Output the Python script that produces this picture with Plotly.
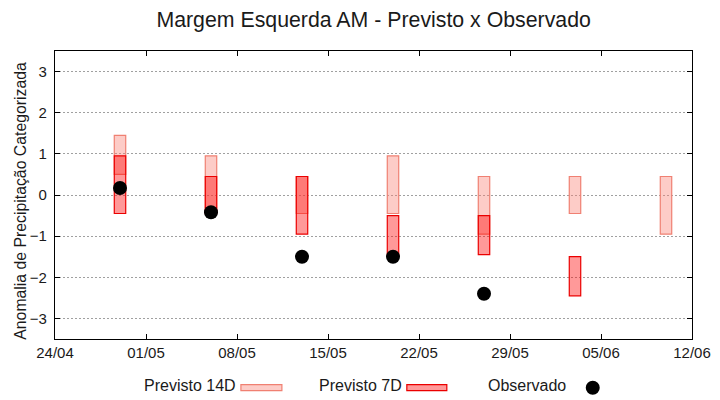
import plotly.graph_objects as go

# ---- data ----
dates = ["2023-04-29", "2023-05-06", "2023-05-13", "2023-05-20",
         "2023-05-27", "2023-06-03", "2023-06-10"]
prev14_low = [0.50, -0.45, -0.45, -0.45, -0.95, -0.45, -0.95]
prev14_high = [1.45, 0.95, 0.45, 0.95, 0.45, 0.45, 0.45]
prev7_low = [-0.45, -0.45, -0.95, -1.45, -1.45, -2.45, None]
prev7_high = [0.95, 0.45, 0.45, -0.50, -0.50, -1.50, None]
observed = [0.17, -0.42, -1.50, -1.50, -2.40, None, None]

x_ticks = ["2023-04-24", "2023-05-01", "2023-05-08", "2023-05-15",
           "2023-05-22", "2023-05-29", "2023-06-05", "2023-06-12"]
x_tick_text = ["24/04", "01/05", "08/05", "15/05", "22/05", "29/05", "05/06", "12/06"]
y_ticks = [-3, -2, -1, 0, 1, 2, 3]

title = "Margem Esquerda AM - Previsto x Observado"
y_title = "Anomalia de Precipitação Categorizada"
legend_names = ["Previsto 14D", "Previsto 7D", "Observado"]

# ---- styles ----
FONT = "Liberation Sans, Arial, sans-serif"
C14_FILL = "rgba(250,128,114,0.4)"
C14_LINE = "rgb(240,128,114)"
C7_FILL = "rgba(255,0,0,0.4)"
C7_LINE = "rgb(235,0,0)"
DAY_MS = 86400000
BAR_W = 0.88 * DAY_MS

fig = go.Figure()

fig.add_trace(go.Bar(
    x=dates,
    base=prev14_low,
    y=[h - l for h, l in zip(prev14_high, prev14_low)],
    width=[BAR_W] * len(dates),
    marker=dict(color=C14_FILL, line=dict(color=C14_LINE, width=1.2)),
    name=legend_names[0], showlegend=False,
))

p7_x = [d for d, l in zip(dates, prev7_low) if l is not None]
p7_b = [l for l in prev7_low if l is not None]
p7_h = [h - l for h, l in zip(prev7_high, prev7_low) if l is not None]
fig.add_trace(go.Bar(
    x=p7_x, base=p7_b, y=p7_h,
    width=[BAR_W] * len(p7_x),
    marker=dict(color=C7_FILL, line=dict(color=C7_LINE, width=1.2)),
    name=legend_names[1], showlegend=False,
))

ob_x = [d for d, v in zip(dates, observed) if v is not None]
ob_y = [v for v in observed if v is not None]
fig.add_trace(go.Scatter(
    x=ob_x, y=ob_y, mode="markers",
    marker=dict(color="black", size=14),
    name=legend_names[2], showlegend=False,
))

# ---- custom gnuplot-like key (text then sample) ----
L, R, T, B = 55, 692.3, 51.3, 339.3
W, H = R - L, B - T


def px(x):
    return (x - L) / W


def py(y):
    return (B - y) / H


key_y = 386
annots = []
shapes = []
for text, xt in zip(legend_names, [142, 317, 486]):
    annots.append(dict(text=text, x=px(xt), y=py(key_y), xref="paper", yref="paper",
                       xanchor="left", yanchor="middle", showarrow=False,
                       font=dict(family=FONT, size=16, color="#1a1a1a")))
# y-axis title placed like gnuplot's
annots.append(dict(text=y_title, x=px(21), y=py(201), xref="paper", yref="paper",
                   xanchor="center", yanchor="middle", textangle=-90, showarrow=False,
                   font=dict(family=FONT, size=15.8, color="#1a1a1a")))
shapes.append(dict(type="rect", xref="paper", yref="paper",
                   x0=px(241), x1=px(282), y0=py(391), y1=py(385),
                   fillcolor=C14_FILL, line=dict(color=C14_LINE, width=1.2)))
shapes.append(dict(type="rect", xref="paper", yref="paper",
                   x0=px(407), x1=px(447), y0=py(391), y1=py(385),
                   fillcolor=C7_FILL, line=dict(color=C7_LINE, width=1.2)))
shapes.append(dict(type="circle", xref="paper", yref="paper",
                   xsizemode="pixel", ysizemode="pixel",
                   xanchor=px(593), yanchor=py(388),
                   x0=-7, x1=7, y0=-7, y1=7,
                   fillcolor="black", line=dict(color="black", width=0)))

fig.update_layout(
    width=720, height=400,
    margin=dict(l=L, r=720 - R, t=T, b=400 - B),
    paper_bgcolor="white", plot_bgcolor="white",
    barmode="overlay",
    showlegend=False,
    font=dict(family=FONT, size=15, color="#1a1a1a"),
    title=dict(text=title, x=(L + R) / 2 / 720, xanchor="center",
               y=1 - 20 / 400, yanchor="middle",
               font=dict(family=FONT, size=21.3, color="#1a1a1a")),
    annotations=annots,
    shapes=shapes,
    xaxis=dict(
        type="date", automargin=False,
        range=[x_ticks[0], x_ticks[-1]],
        tickmode="array", tickvals=x_ticks, ticktext=x_tick_text,
        ticks="inside", ticklen=5, tickwidth=1, tickcolor="black",
        showline=True, linecolor="black", linewidth=1.2, mirror="ticks",
        showgrid=False, zeroline=False,
        tickfont=dict(family=FONT, size=15, color="#1a1a1a"),
    ),
    yaxis=dict(
        range=[-3.5, 3.5], automargin=False,
        tickmode="array", tickvals=y_ticks,
        ticks="inside", ticklen=5, tickwidth=1, tickcolor="black",
        showline=True, linecolor="black", linewidth=1.2, mirror="ticks",
        showgrid=True, gridcolor="#a0a0a0", griddash="2px,2px", gridwidth=1,
        zeroline=False, ticklabelstandoff=4,
        tickfont=dict(family=FONT, size=15, color="#1a1a1a"),
    ),
)

fig.write_html("out.html", config={"displayModeBar": False},
               post_script="document.body.style.margin='0';document.body.style.padding='0';")
